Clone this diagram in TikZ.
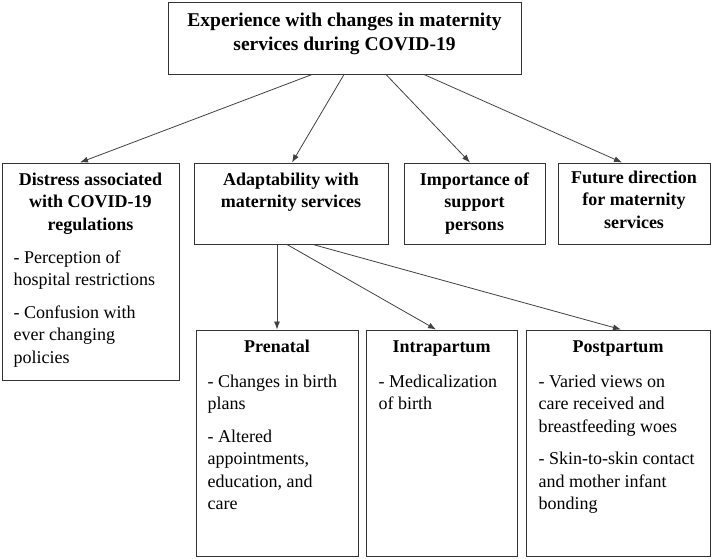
\documentclass[tikz,border=0pt]{standalone}
\usepackage{fontspec}
\setmainfont{Liberation Serif}
\usetikzlibrary{arrows.meta}
\tikzset{
  box/.style={draw=black!80, line width=1pt, rectangle, inner sep=0pt},
  ttl/.style={inner sep=0pt, anchor=north, align=center, font=\fontsize{18}{22.5}\selectfont\bfseries},
  toptitle/.style={inner sep=0pt, anchor=north, align=center, font=\fontsize{19.5}{24}\selectfont\bfseries},
  body/.style={inner sep=0pt, anchor=north west, align=left, font=\fontsize{18}{22.5}\selectfont},
  arr/.style={draw=black!75, line width=0.8pt, -{Latex[length=8pt,width=6pt]}}
}
\begin{document}
\begin{tikzpicture}[x=1pt,y=1pt]
\useasboundingbox (0,0) rectangle (712,-558);
% boxes
\node[box, minimum width=353pt, minimum height=72pt] (top) at (344.5,-38) {};
\node[box, minimum width=177pt, minimum height=217pt] (distress) at (90.5,-271.5) {};
\node[box, minimum width=194pt, minimum height=81pt] (adapt) at (291,-203.5) {};
\node[box, minimum width=141pt, minimum height=81pt] (import) at (474.5,-203.5) {};
\node[box, minimum width=152pt, minimum height=81pt] (future) at (634,-203.5) {};
\node[box, minimum width=162pt, minimum height=226pt] (prenatal) at (277,-443) {};
\node[box, minimum width=151pt, minimum height=226pt] (intra) at (441.5,-443) {};
\node[box, minimum width=184pt, minimum height=226pt] (post) at (618,-443) {};
% texts
\node[toptitle] (toptxt) at ([yshift=-8.2pt]top.north) {\strut Experience with changes in maternity\\services during COVID-19};
\node[ttl] (distressttl) at ([yshift=-7pt]distress.north) {\strut Distress associated\\with COVID-19\\regulations};
\node[ttl] (adaptttl) at ([yshift=-7pt]adapt.north) {\strut Adaptability with\\maternity services};
\node[ttl] (importttl) at ([yshift=-7pt]import.north) {\strut Importance of\\support\\persons};
\node[ttl] (futurettl) at ([yshift=-5pt]future.north) {\strut Future direction\\for maternity\\services};
\node[body] (distressbody) at ([xshift=12pt,yshift=-85pt]distress.north west) {\strut - Perception of\\hospital restrictions\\[10pt]- Confusion with\\ever changing\\policies};
\node[ttl] (prenatalttl) at ([yshift=-7pt]prenatal.north) {\strut Prenatal};
\node[ttl] (intrattl) at ([yshift=-7pt]intra.north) {\strut Intrapartum};
\node[ttl] (postttl) at ([yshift=-7pt]post.north) {\strut Postpartum};
\node[body] (prenatalbody) at ([xshift=12pt,yshift=-42pt]prenatal.north west) {\strut - Changes in birth\\plans\\[10pt]- Altered\\appointments,\\education, and\\care};
\node[body] (intrabody) at ([xshift=13pt,yshift=-42pt]intra.north west) {\strut - Medicalization\\of birth};
\node[body] (postbody) at ([xshift=13pt,yshift=-42pt]post.north west) {\strut - Varied views on\\care received and\\breastfeeding woes\\[10pt]- Skin-to-skin contact\\and mother infant\\bonding};
% connectors
\draw[arr] ([xshift=-32.5pt]top.south) -- ([xshift=-10.5pt]distress.north);
\draw[arr] ([xshift=-0.5pt]top.south) -- ([xshift=1pt]adapt.north);
\draw[arr] ([xshift=41.5pt]top.south) -- ([xshift=-4.5pt]import.north);
\draw[arr] ([xshift=79.5pt]top.south) -- ([xshift=-12pt]future.north);
\draw[arr] ([xshift=-14pt]adapt.south) -- ([xshift=0pt]prenatal.north);
\draw[arr] ([xshift=-4pt]adapt.south) -- ([xshift=-5.5pt]intra.north);
\draw[arr] ([xshift=22pt]adapt.south) -- ([xshift=3pt]post.north);
\end{tikzpicture}
\end{document}
